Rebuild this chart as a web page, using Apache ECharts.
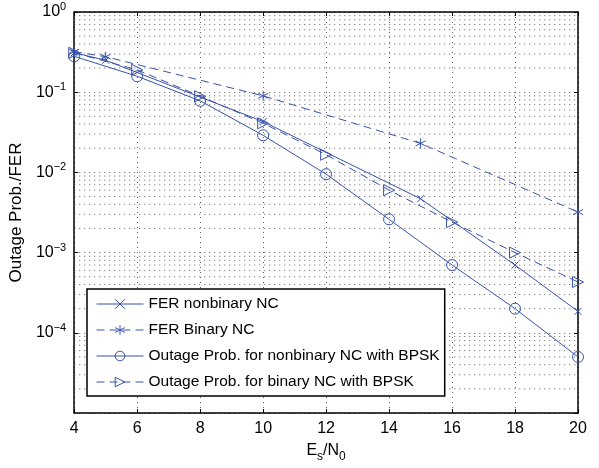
<!DOCTYPE html>
<html>
<head>
<meta charset="utf-8">
<script src="https://cdn.jsdelivr.net/npm/echarts@6/dist/echarts.min.js"></script>
<style>
  html, body { margin: 0; padding: 0; background: #fff; }
  #chart { width: 599px; height: 468px; }
</style>
</head>
<body>
<div id="chart"></div>
<script>
// Values
const xTicks = [4, 6, 8, 10, 12, 14, 16, 18, 20];

const ferNonbinaryX = [4, 5, 10, 15, 18, 20];
const ferNonbinaryY = [0.31, 0.25, 0.043, 0.0047, 0.0007, 0.000185];

const ferBinaryX = [4, 5, 10, 15, 20];
const ferBinaryY = [0.32, 0.277, 0.09, 0.023, 0.0032];

const outageNonbinaryX = [4, 6, 8, 10, 12, 14, 16, 18, 20];
const outageNonbinaryY = [0.28, 0.158, 0.078, 0.029, 0.0095, 0.0026, 0.0007, 0.0002, 0.00005];

const outageBinaryX = [4, 6, 8, 10, 12, 14, 16, 18, 20];
const outageBinaryY = [0.31, 0.19, 0.089, 0.041, 0.0166, 0.006, 0.0024, 0.001, 0.00043];

const seriesNames = [
  'FER nonbinary NC',
  'FER Binary NC',
  'Outage Prob. for nonbinary NC with BPSK',
  'Outage Prob. for binary NC with BPSK'
];

const blue = '#3752ab';
const font = '"Liberation Sans", Arial, sans-serif';

const xSym = 'path://M0,0L10,10M10,0L0,10';
const starSym = 'path://M5,0L5,10M0.7,2.5L9.3,7.5M0.7,7.5L9.3,2.5';
const triSym = 'path://M0,0L10,5L0,10Z';

function pairs(xs, ys) {
  return xs.map((x, i) => [x, ys[i]]);
}

// minor horizontal grid lines at 2..9 of each decade
const minorGrid = [];
for (let e = -5; e < 0; e++) {
  for (let m = 2; m <= 9; m++) minorGrid.push([m * Math.pow(10, e)]);
}

const dotted = { color: '#333', width: 0.8, type: [1, 4] };

function makeSeries(name, data, symbol, size, dashed) {
  return {
    name,
    type: 'line',
    data,
    symbol,
    symbolSize: size,
    showSymbol: true,
    lineStyle: { color: blue, width: 1, type: dashed ? [8, 5] : 'solid' },
    itemStyle: { color: 'none', borderColor: blue, borderWidth: 1 },
    emphasis: { disabled: true },
    z: 3
  };
}

const chart = echarts.init(document.getElementById('chart'));

chart.setOption({
  animation: false,
  textStyle: { fontFamily: font },
  grid: { left: 72, right: 21, top: 12, bottom: 48 },
  legend: {
    orient: 'vertical',
    left: 87,
    top: 289,
    padding: [7, 5, 6, 9],
    itemWidth: 47,
    itemHeight: 12,
    itemGap: 10,
    backgroundColor: '#fff',
    borderColor: '#000',
    borderWidth: 1.5,
    lineStyle: { width: 1 },
    itemStyle: { borderWidth: 1 },
    textStyle: { fontFamily: font, fontSize: 15.5, color: '#000' },
    data: seriesNames
  },
  xAxis: [
    {
      type: 'value',
      min: 4,
      max: 20,
      interval: 2,
      name: '{n|E}{sub|s}{n|/N}{sub|0}',
      nameLocation: 'middle',
      nameGap: 26,
      nameTextStyle: {
        rich: {
          n: { fontFamily: font, fontSize: 16, color: '#000' },
          sub: { fontFamily: font, fontSize: 12, color: '#000', verticalAlign: 'bottom', padding: [12, 0, 0, 0] }
        }
      },
      axisLine: { lineStyle: { color: '#000', width: 1.5 } },
      axisTick: { inside: true, length: 4, lineStyle: { color: '#000' } },
      axisLabel: { fontFamily: font, fontSize: 16, color: '#000', margin: 8 },
      splitLine: { show: true, lineStyle: dotted }
    },
    {
      type: 'value',
      position: 'top',
      min: 4,
      max: 20,
      interval: 2,
      axisLine: { lineStyle: { color: '#000', width: 1.5 } },
      axisTick: { inside: true, length: 4, lineStyle: { color: '#000' } },
      axisLabel: { show: false },
      splitLine: { show: false }
    }
  ],
  yAxis: [
    {
      type: 'log',
      logBase: 10,
      min: 1e-5,
      max: 1,
      name: 'Outage Prob./FER',
      nameLocation: 'middle',
      nameGap: 37,
      nameTextStyle: { fontFamily: font, fontSize: 17, color: '#000' },
      axisLine: { show: true, lineStyle: { color: '#000', width: 1.5 } },
      axisTick: { inside: true, length: 4, lineStyle: { color: '#000' } },
      axisLabel: {
        margin: 8,
        showMinLabel: false,
        formatter: function (v) {
          const e = Math.round(Math.log10(v));
          return '{b|10}{s|' + (e < 0 ? '\u2212' + (-e) : e) + '}';
        },
        rich: {
          b: { fontFamily: font, fontSize: 16, color: '#000' },
          s: { fontFamily: font, fontSize: 11, color: '#000', verticalAlign: 'top', padding: [0, 0, 10, 0] }
        }
      },
      splitLine: { show: true, lineStyle: dotted }
    },
    {
      type: 'log',
      logBase: 10,
      min: 1e-5,
      max: 1,
      position: 'right',
      axisLine: { show: true, lineStyle: { color: '#000', width: 1.5 } },
      axisTick: { inside: true, length: 4, lineStyle: { color: '#000' } },
      axisLabel: { show: false },
      splitLine: { show: false }
    }
  ],
  series: [
    {
      type: 'custom',
      silent: true,
      data: minorGrid,
      encode: { y: 0 },
      renderItem: function (params, api) {
        const v = api.value(0);
        const a = api.coord([4, v]);
        const b = api.coord([20, v]);
        return {
          type: 'line',
          shape: { x1: a[0], y1: a[1], x2: b[0], y2: b[1] },
          style: { stroke: dotted.color, lineWidth: dotted.width, lineDash: dotted.type }
        };
      },
      z: 1
    },
    makeSeries(seriesNames[0], pairs(ferNonbinaryX, ferNonbinaryY), xSym, 7, false),
    makeSeries(seriesNames[1], pairs(ferBinaryX, ferBinaryY), starSym, 10, true),
    makeSeries(seriesNames[2], pairs(outageNonbinaryX, outageNonbinaryY), 'circle', 11, false),
    makeSeries(seriesNames[3], pairs(outageBinaryX, outageBinaryY), triSym, 11, true)
  ]
});
</script>
</body>
</html>
